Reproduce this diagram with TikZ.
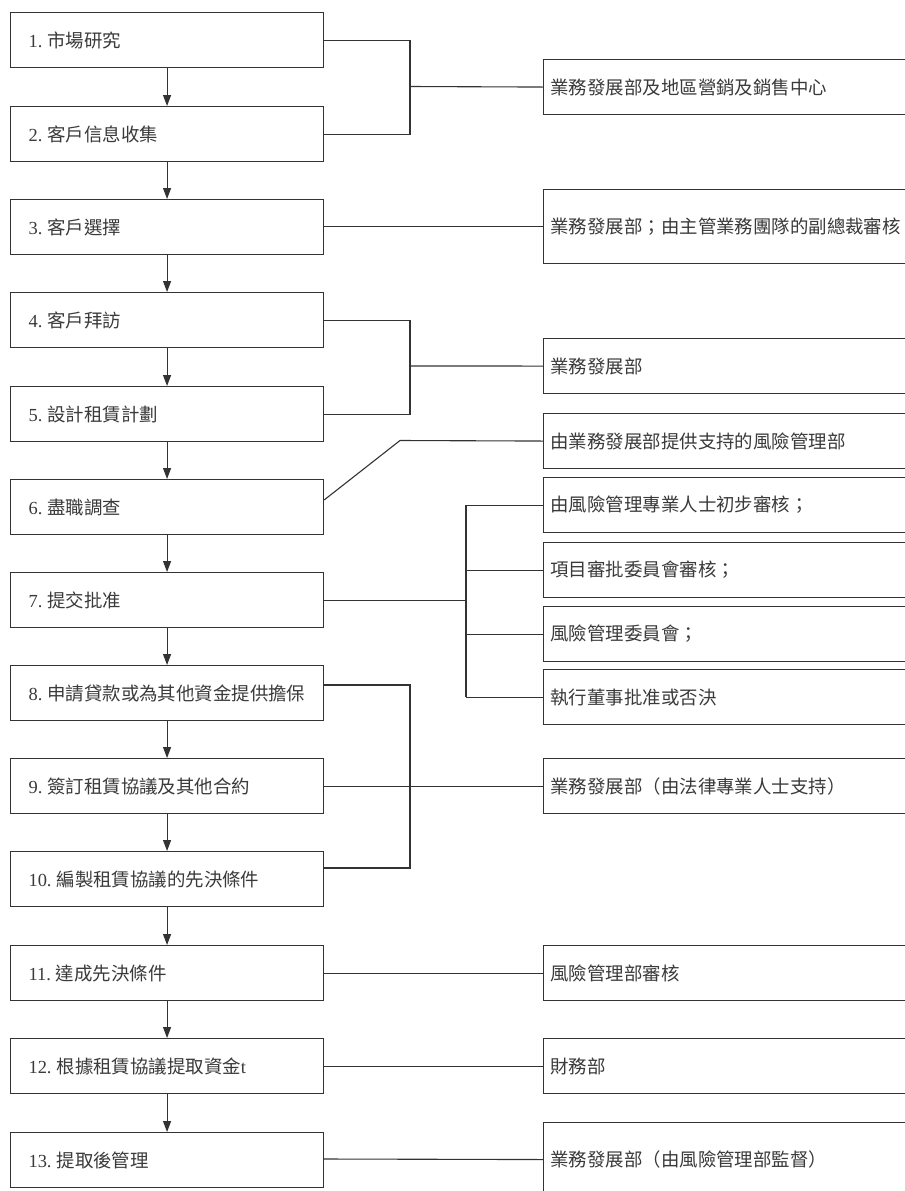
\documentclass[tikz,border=0pt]{standalone}
\usepackage{fontspec}
\setmainfont{Liberation Serif}
\newfontfamily\cjk{Noto Sans CJK TC}
\usetikzlibrary{arrows.meta}
\definecolor{ln}{HTML}{333333}
\definecolor{tx}{HTML}{3A3A3A}
\newcommand{\C}[1]{{\cjk #1}}
\newcommand{\N}[1]{#1\kern5bp}
\begin{document}
\begin{tikzpicture}[x=1bp,y=-1bp,
  lbox/.style={draw=ln, line width=1.1bp, minimum width=313bp, minimum height=55bp,
    text width=277bp, inner xsep=18bp, inner ysep=0pt, align=left, anchor=north west,
    text=tx, font=\fontsize{18.5}{21}\selectfont},
  rbox/.style={draw=ln, line width=1.1bp, minimum width=420bp, minimum height=55bp,
    text width=406bp, inner xsep=7bp, inner ysep=0pt, align=left, anchor=north west,
    text=tx, font=\fontsize{18.5}{21}\selectfont},
  conn/.style={draw=ln, line width=1.1bp},
  arr/.style={conn, -{Triangle[width=8bp,length=11bp]}}]
\useasboundingbox (0,0) rectangle (905,1191);
\fill[white] (0,0) rectangle (905,1191);
\clip (0,0) rectangle (905,1191);
% left boxes
\node[lbox] (L1) at (10,12) {\N{1.}\C{市場研究}};
\node[lbox] (L2) at (10,106) {\N{2.}\C{客戶信息收集}};
\node[lbox] (L3) at (10,199) {\N{3.}\C{客戶選擇}};
\node[lbox] (L4) at (10,292) {\N{4.}\C{客戶拜訪}};
\node[lbox] (L5) at (10,386) {\N{5.}\C{設計租賃計劃}};
\node[lbox] (L6) at (10,479) {\N{6.}\C{盡職調查}};
\node[lbox] (L7) at (10,572) {\N{7.}\C{提交批准}};
\node[lbox] (L8) at (10,665) {\N{8.}\C{申請貸款或為其他資金提供擔保}};
\node[lbox] (L9) at (10,758) {\N{9.}\C{簽訂租賃協議及其他合約}};
\node[lbox] (L10) at (10,851) {\N{10.}\C{編製租賃協議的先決條件}};
\node[lbox] (L11) at (10,945) {\N{11.}\C{達成先決條件}};
\node[lbox] (L12) at (10,1038) {\N{12.}\C{根據租賃協議提取資金}t};
\node[lbox] (L13) at (10,1132) {\N{13.}\C{提取後管理}};
% right boxes
\node[rbox] (R1) at (543,59) {\C{業務發展部及地區營銷及銷售中心}};
\node[rbox, minimum height=74bp] (R2) at (543,189) {\C{業務發展部；由主管業務團隊的副總裁審核}};
\node[rbox] (R3) at (543,338) {\C{業務發展部}};
\node[rbox] (R4) at (543,413) {\C{由業務發展部提供支持的風險管理部}};
\node[rbox] (R5) at (543,477) {\C{由風險管理專業人士初步審核；}};
\node[rbox] (R6) at (543,542) {\C{項目審批委員會審核；}};
\node[rbox] (R7) at (543,606) {\C{風險管理委員會；}};
\node[rbox] (R8) at (543,669) {\C{執行董事批准或否決}};
\node[rbox] (R9) at (543,758) {\C{業務發展部（由法律專業人士支持）}};
\node[rbox] (R10) at (543,945) {\C{風險管理部審核}};
\node[rbox] (R11) at (543,1038) {\C{財務部}};
\node[rbox, minimum height=74bp] (R12) at (543,1122) {\C{業務發展部（由風險管理部監督）}};
% vertical arrows
\foreach \a/\b in {L1/L2,L2/L3,L3/L4,L4/L5,L5/L6,L6/L7,L7/L8,L8/L9,L9/L10,L10/L11,L11/L12,L12/L13}
  \draw[arr] (\a.south) -- (\b.north);
% connectors
\coordinate (j1) at (410,86.5);
\draw[conn] (L1.east) -| (j1) |- (L2.east);
\draw[conn] (j1) -- (R1.west);
\draw[conn] (L3.east |- R2.west) -- (R2.west);
\coordinate (j2) at (410,366);
\draw[conn] (L4.east) -| (j2) |- (L5.east);
\draw[conn] (j2) -- (R3.west);
\coordinate (k6) at (400,440.5);
\draw[conn] (L6.east |- 0,500) -- (k6) -- (R4.west);
\coordinate (bus) at (466,0);
\draw[conn] (L7.east) -- (L7.east -| bus);
\draw[conn] (R5.west -| bus) -- (R8.west -| bus);
\foreach \r in {R5,R6,R7,R8}
  \draw[conn] (\r.west -| bus) -- (\r.west);
\coordinate (j3) at (410,0);
\draw[conn] (L8.east |- 0,685) -| (j3 |- 0,776) |- (L10.east |- 0,868);
\draw[conn] (L9.east |- R9.west) -- (R9.west);
\draw[conn] (L11.east |- R10.west) -- (R10.west);
\draw[conn] (L12.east |- R11.west) -- (R11.west);
\draw[conn] (L13.east |- 0,1159) -- (R12.west);
\end{tikzpicture}
\end{document}
